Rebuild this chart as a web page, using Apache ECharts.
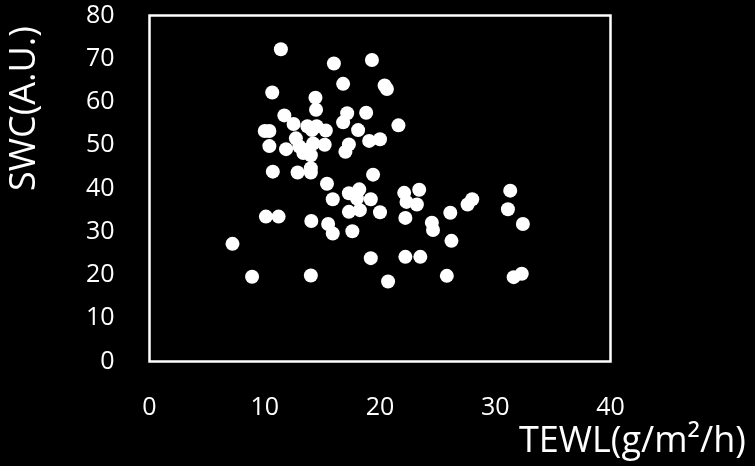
<!DOCTYPE html>
<html>
<head>
<meta charset="utf-8">
<script src="https://cdn.jsdelivr.net/npm/echarts@6/dist/echarts.min.js"></script>
<style>
html,body{margin:0;padding:0;background:#000;}
#c{width:755px;height:466px;}
</style>
</head>
<body>
<div id="c"></div>
<script>
var xTicks = [0, 10, 20, 30, 40];
var yTicks = [0, 10, 20, 30, 40, 50, 60, 70, 80];
var tewl = [11.4, 16.0, 19.3, 16.8, 10.65, 14.4, 14.45, 11.7, 12.5, 17.15, 16.8, 18.8, 18.1,
  10.0, 10.4, 13.7, 14.5, 14.1, 15.3, 12.7, 11.85, 10.4, 13.0, 13.6, 14.0, 13.35, 14.2, 15.2,
  17.3, 17.0, 19.06, 20.0, 20.4, 20.6, 21.6, 19.4, 22.1, 23.4, 28.0, 31.3, 10.7, 12.85, 14.0,
  14.0, 15.4, 15.9, 17.3, 18.2, 18.0, 19.2, 17.3, 18.25, 20.0, 10.1, 11.2, 14.04, 15.5, 15.9,
  17.6, 7.2, 19.2, 8.9, 14.0, 22.3, 23.2, 22.2, 24.5, 24.6, 26.1, 26.2, 27.6, 31.1, 32.4,
  22.2, 23.5, 20.7, 25.8, 31.6, 32.3];
var swc = [72.2, 68.9, 69.7, 64.2, 62.2, 61.0, 58.2, 56.9, 54.9, 57.4, 55.3, 57.5, 53.5,
  53.3, 53.3, 54.4, 54.4, 53.5, 53.4, 51.6, 49.1, 49.8, 49.7, 48.9, 47.7, 48.2, 50.4, 50.1,
  50.2, 48.5, 51.0, 51.4, 63.8, 63.0, 54.6, 43.2, 39.0, 39.7, 37.5, 39.5, 43.9, 43.7, 43.7,
  44.7, 41.1, 37.5, 38.9, 39.8, 37.7, 37.5, 34.6, 35.0, 34.5, 33.5, 33.5, 32.5, 31.8, 29.6,
  30.1, 27.2, 23.9, 19.6, 19.9, 36.9, 36.3, 33.2, 32.1, 30.4, 34.4, 27.9, 36.3, 35.2, 31.8,
  24.2, 24.2, 18.5, 19.8, 19.5, 20.3];

var data = tewl.map(function (x, i) { return [x, swc[i]]; });
var chart = echarts.init(document.getElementById('c'));
var font = '"Open Sans", "Noto Sans", sans-serif';
chart.setOption({
  backgroundColor: '#000',
  animation: false,
  grid: { left: 149.5, right: 144.5, top: 15.5, bottom: 104.5, show: true, borderColor: '#fff', borderWidth: 2.5, backgroundColor: 'transparent' },
  xAxis: {
    type: 'value', min: xTicks[0], max: xTicks[xTicks.length - 1], interval: 10,
    axisLine: { show: false }, axisTick: { show: false }, splitLine: { show: false },
    axisLabel: { color: '#fff', fontSize: 25, fontFamily: font, margin: 34 }
  },
  yAxis: {
    type: 'value', min: yTicks[0], max: yTicks[yTicks.length - 1], interval: 10,
    axisLine: { show: false }, axisTick: { show: false }, splitLine: { show: false },
    axisLabel: { color: '#fff', fontSize: 25, fontFamily: font, margin: 35 }
  },
  graphic: [
    { type: 'text', left: 519, top: 424, style: { text: 'TEWL(g/m²/h)', fill: '#fff', font: '36px ' + font } },
    { type: 'text', x: 7, y: 191, rotation: Math.PI / 2, style: { text: 'SWC(A.U.)', fill: '#fff', font: '36px ' + font, textAlign: 'left', textVerticalAlign: 'top' } }
  ],
  series: [{
    type: 'scatter', data: data, symbolSize: 14,
    itemStyle: { color: '#fff', opacity: 1 }
  }]
});
</script>
</body>
</html>
